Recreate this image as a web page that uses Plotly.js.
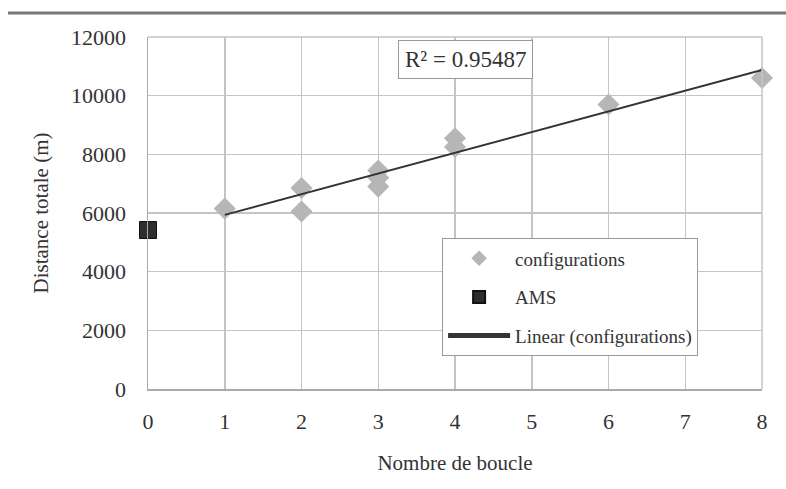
<!DOCTYPE html>
<html><head><meta charset="utf-8">
<script src="https://cdn.plot.ly/plotly-3.0.1.min.js"></script>
<style>html,body{margin:0;padding:0;background:#fff}#c{width:786px;height:489px}</style>
</head><body><div id="c"></div>
<script>
const configX = [1, 2, 2, 3, 3, 3, 4, 4, 6, 8];
const configY = [6150, 6850, 6050, 7450, 7200, 6900, 8550, 8250, 9700, 10600];
const amsX = [0];
const amsY = [5420];
const xTicks = [0, 1, 2, 3, 4, 5, 6, 7, 8];
const yTicks = [0, 2000, 4000, 6000, 8000, 10000, 12000];
const r2Label = 'R² = 0.95487';

// least-squares trend from configuration data
const n = configX.length;
const mx = configX.reduce((a,b)=>a+b,0)/n;
const my = configY.reduce((a,b)=>a+b,0)/n;
let sxy=0, sxx=0;
for (let i=0;i<n;i++){ sxy+=(configX[i]-mx)*(configY[i]-my); sxx+=(configX[i]-mx)**2; }
const slope = sxy/sxx, icpt = my - slope*mx;
const trendX = [Math.min(...configX), Math.max(...configX)];
const trendY = trendX.map(x=>icpt+slope*x);

const font = '"Liberation Serif", "Times New Roman", "DejaVu Serif", serif';
const data = [
  {x: configX, y: configY, type:'scatter', mode:'markers', name:'configurations', legendgroup:'a',
   marker:{symbol:'diamond', size:17, color:'#b6b6b6', line:{width:0}}, cliponaxis:false},
  {x: amsX, y: amsY, type:'scatter', mode:'markers', name:'AMS', legendgroup:'b',
   marker:{symbol:'square', size:17, color:'#2e2e2e', line:{width:1, color:'#111'}}, cliponaxis:false},
  {x: trendX, y: trendY, type:'scatter', mode:'lines', name:'Linear (configurations)', legendgroup:'c',
   line:{color:'#333', width:2}}
];
const layout = {
  width:786, height:489,
  margin:{l:148, r:24, t:37, b:100},
  paper_bgcolor:'#fff', plot_bgcolor:'#fff',
  font:{family:font, color:'#333', size:18},
  showlegend:true,
  legend:{x:0.479, y:0.428, xanchor:'left', yanchor:'top', bgcolor:'#fff',
    bordercolor:'#999', borderwidth:1, font:{size:19, color:'#333', family:font},
    traceorder:'grouped', tracegroupgap:11, itemwidth:62, itemsizing:'constant'},
  xaxis:{range:[0,8], tickvals:xTicks, ticktext:xTicks.map(String), showgrid:true,
    gridcolor:'#c4c4c4', gridwidth:1.5, zeroline:false, showline:true, linecolor:'#aaa', linewidth:1.5,
    ticks:'', ticklabelstandoff:12, tickfont:{size:22, family:font, color:'#333'},
    title:{text:'Nombre de boucle', font:{size:21, family:font, color:'#333'}, standoff:22}},
  yaxis:{range:[0,12000], tickvals:yTicks, ticktext:yTicks.map(String), showgrid:true,
    gridcolor:'#c4c4c4', gridwidth:1.5,
    zeroline:false, showline:true, linecolor:'#aaa', linewidth:1.5, ticks:'',
    ticklabelstandoff:16, tickfont:{size:22, family:font, color:'#333'},
    title:{text:'Distance totale (m)', font:{size:21, family:font, color:'#333'}, standoff:16}},
  annotations:[{xref:'paper', yref:'paper', x:0.407, y:0.9375, xanchor:'left', yanchor:'middle',
    text:r2Label, showarrow:false, bgcolor:'#fff', bordercolor:'#999', borderwidth:1,
    borderpad:6, font:{size:23, family:font, color:'#333'}}],
  shapes:[
    {type:'line', xref:'paper', yref:'paper', x0:-0.228, x1:1.04, y0:1.068, y1:1.068,
     line:{color:'#777', width:3}},
    {type:'line', xref:'paper', yref:'paper', x0:1, x1:1, y0:0, y1:1, line:{color:'#c4c4c4', width:1.5}},
    {type:'line', xref:'paper', yref:'paper', x0:0, x1:1, y0:1, y1:1, line:{color:'#c4c4c4', width:1.5}}
  ]
};
Plotly.newPlot('c', data, layout, {displayModeBar:false, staticPlot:true});
</script></body></html>
